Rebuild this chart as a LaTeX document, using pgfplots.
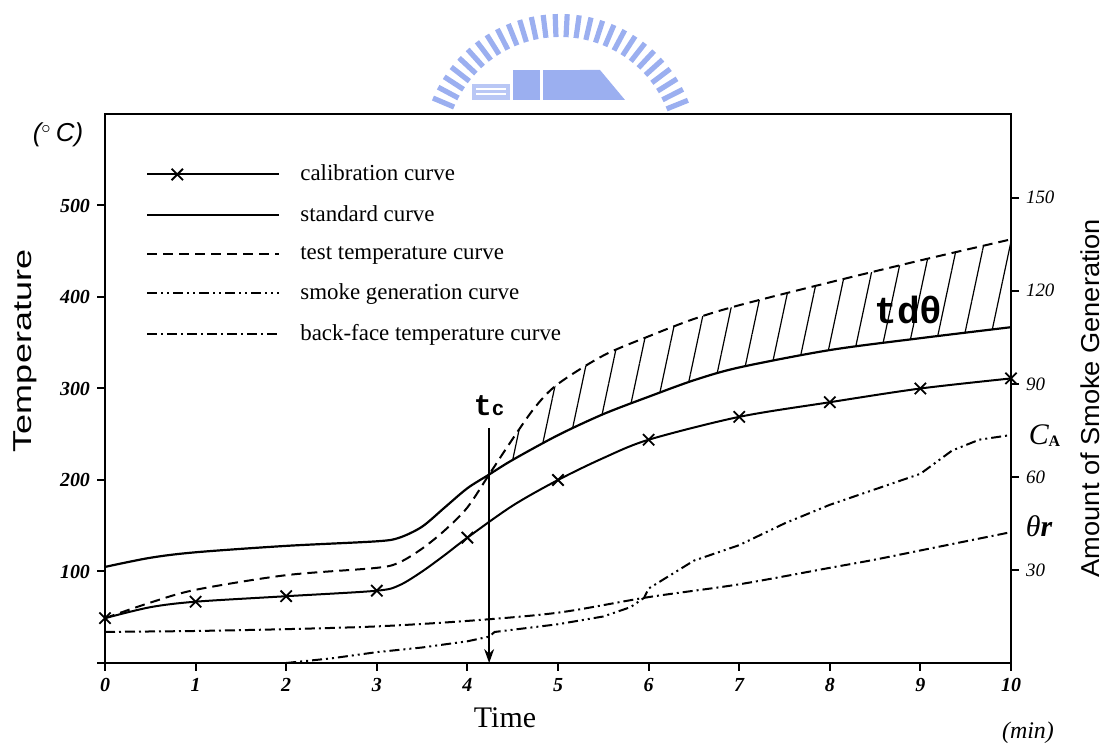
\documentclass[border=0pt]{standalone}
\usepackage{pgfplots}
\pgfplotsset{compat=1.18}
\usepgfplotslibrary{fillbetween}
\usetikzlibrary{patterns.meta,arrows.meta}
\usepackage{fontspec}
\usepackage{graphicx}
\setmainfont{Liberation Serif}
\newfontfamily\sans{Liberation Sans}
\newfontfamily\mono{Liberation Mono}
\definecolor{logoblue}{RGB}{155,175,240}
\begin{document}
\begin{tikzpicture}
% watermark logo (decoration)
\begin{scope}[shift={(0bp,373bp)}, x=0.5bp, y=-0.5bp]
  \foreach \a in {22,27,...,158} {
    \draw[logoblue, line width=2.6bp] ({560+115*cos(\a)},{152-115*sin(\a)}) -- ({560+138*cos(\a)},{152-138*sin(\a)});
  }
  \fill[logoblue!70] (472,84) rectangle (510,100);
  \fill[white] (476,88) rectangle (506,90);
  \fill[white] (476,93) rectangle (506,95);
  \fill[logoblue] (513,70) rectangle (540,100);
  \fill[logoblue] (543,70) rectangle (580,100);
  \fill[logoblue] (580,70) -- (600,70) -- (625,100) -- (580,100) -- cycle;
\end{scope}

\begin{axis}[
  at={(52.5bp,41.5bp)}, anchor=south west,
  scale only axis, width=453bp, height=274.5bp,
  xmin=0, xmax=10, ymin=0, ymax=600,
  axis line style={line width=1.2bp},
  xtick={0,1,...,10}, ytick={0,100,...,500},
  yticklabels={,100,200,300,400,500},
  xtick pos=bottom, ytick pos=left, tick align=outside,
  major tick length=4bp, tick style={line width=1bp, black},
  tick label style={font=\fontsize{10}{12}\selectfont\bfseries\itshape},
  /pgf/number format/assume math mode=true,
  clip=false,
  legend cell align=left,
  legend style={draw=none, fill=none, at={(0.045,0.915)}, anchor=north west,
    font=\fontsize{11.5}{13}\selectfont, row sep=6.9bp, inner sep=0pt},
  legend image code/.code={\draw[#1] (0bp,0bp) -- (66bp,0bp); \path (74bp,0bp);},
]
\addplot[black, line width=1bp, smooth, tension=0.5, mark=x, mark size=4bp,
  mark options={solid, line width=0.9bp},
  mark indices={1,3,4,5,9,11,13,14,15,16,17},
  legend image code/.code={
    \draw[black, line width=1bp] (0bp,0bp) -- (66bp,0bp);
    \draw[black, line width=0.9bp] plot[mark=x, mark size=4bp, only marks] coordinates {(15bp,0bp) (45bp,0bp)};
    \path (74bp,0bp);
  }] coordinates {
  (0,49) (0.5,61) (1,67) (2,73) (3,79) (3.25,85) (3.5,100) (3.75,118) (4,137)
  (4.5,172) (5,200) (5.5,224) (6,244) (7,269) (8,285) (9,300) (10,311)
};
\addlegendentry{calibration curve}
\addplot[name path=std, black, line width=1.1bp, smooth, tension=0.5] coordinates {
  (0,105) (0.5,115) (1,121) (2,128) (3,133) (3.25,137) (3.5,149) (3.75,170) (4,191)
  (4.24,206) (4.5,222) (5,249) (5.5,272) (6,291) (6.5,309) (7,323) (8,342) (9,355) (10,367)
};
\addlegendentry{standard curve}
\addplot[name path=test, black, line width=1bp, dash pattern=on 5bp off 3bp, smooth, tension=0.5] coordinates {
  (0,49) (0.5,66) (1,80) (2,96) (3,104) (3.25,110) (3.5,125) (3.75,145) (4,170)
  (4.24,206) (4.5,245) (4.75,280) (5,305) (5.5,336) (6,357) (6.5,376) (7,391) (8,416) (9,440) (10,463)
};
\addlegendentry{test temperature curve}
\addlegendimage{black, line width=1bp, dash pattern=on 5bp off 2bp on 1bp off 2bp on 1bp off 2bp}
\addlegendentry{smoke generation curve}
\addplot[black, line width=1bp, dash pattern=on 5bp off 2bp on 1bp off 2bp, smooth, tension=0.5] coordinates {
  (0,34) (1,35) (2,37) (3,40) (4,46) (5,55) (6,72) (7,86) (8,104) (8.5,113) (9,123) (10,143)
};
\addlegendentry{back-face temperature curve}
\addplot[draw=none, pattern={Lines[angle=78, distance=13bp, line width=0.6bp]}, forget plot]
  fill between[of=test and std, soft clip={domain=4.24:10}];

\draw[-{Stealth[length=7bp,width=5bp]}, line width=0.7bp] (axis cs:4.24,257) -- (axis cs:4.24,0);
\node at (axis cs:4.24,281) {\mono\bfseries\fontsize{15}{15}\selectfont t\fontsize{10.5}{10}\selectfont c};
\node at (axis cs:8.87,386) {\mono\bfseries\fontsize{19}{19}\selectfont tdθ};
\node at (axis cs:10.37,249) {\fontsize{15}{15}\selectfont\itshape C\raisebox{-1bp}{\fontsize{8}{8}\selectfont\upshape\bfseries A}};
\node at (axis cs:10.31,149) {\fontsize{15}{15}\selectfont\itshape θ\bfseries r};
\end{axis}

\begin{axis}[
  at={(52.5bp,41.5bp)}, anchor=south west,
  scale only axis, width=453bp, height=274.5bp,
  xmin=0, xmax=10, ymin=0, ymax=177,
  axis x line=none, axis y line*=right,
  y axis line style={-, line width=1.2bp},
  ytick={30,60,90,120,150}, tick align=outside,
  major tick length=4bp, tick style={line width=1bp, black},
  tick label style={font=\fontsize{9.5}{11}\selectfont\itshape},
  /pgf/number format/assume math mode=true,
]
\addplot[black, line width=1bp, dash pattern=on 5bp off 2bp on 1bp off 2bp on 1bp off 2bp] coordinates {
  (2,0) (2.5,1.5) (3,3.5) (3.5,5) (4,7) (4.24,8.5) (4.3,10) (5,12.5) (5.5,15) (5.8,18)
  (5.95,21) (6,24) (6.5,33) (7,38) (7.5,45) (8,51) (8.5,56) (9,61) (9.35,68.5) (9.65,72) (10,73.5)
};
\end{axis}

\node[rotate=90] at (12.5bp,197.5bp) {\scalebox{1.39}[1]{\sans\fontsize{13}{13}\selectfont Temperature}};
\node[rotate=90] at (545bp,174bp) {\scalebox{1.05}[1]{\sans\fontsize{13}{13}\selectfont Amount of Smoke Generation}};
\node at (252.5bp,14bp) {\fontsize{15}{15}\selectfont Time};
\node at (29bp,305.5bp) {\sans\itshape\fontsize{13}{13}\selectfont ($^{\circ}$\,C)};
\node at (514bp,6.5bp) {\itshape\fontsize{12}{12}\selectfont (min)};
\pgfresetboundingbox
\useasboundingbox (0,0) rectangle (552.5bp,373bp);
\end{tikzpicture}
\end{document}
